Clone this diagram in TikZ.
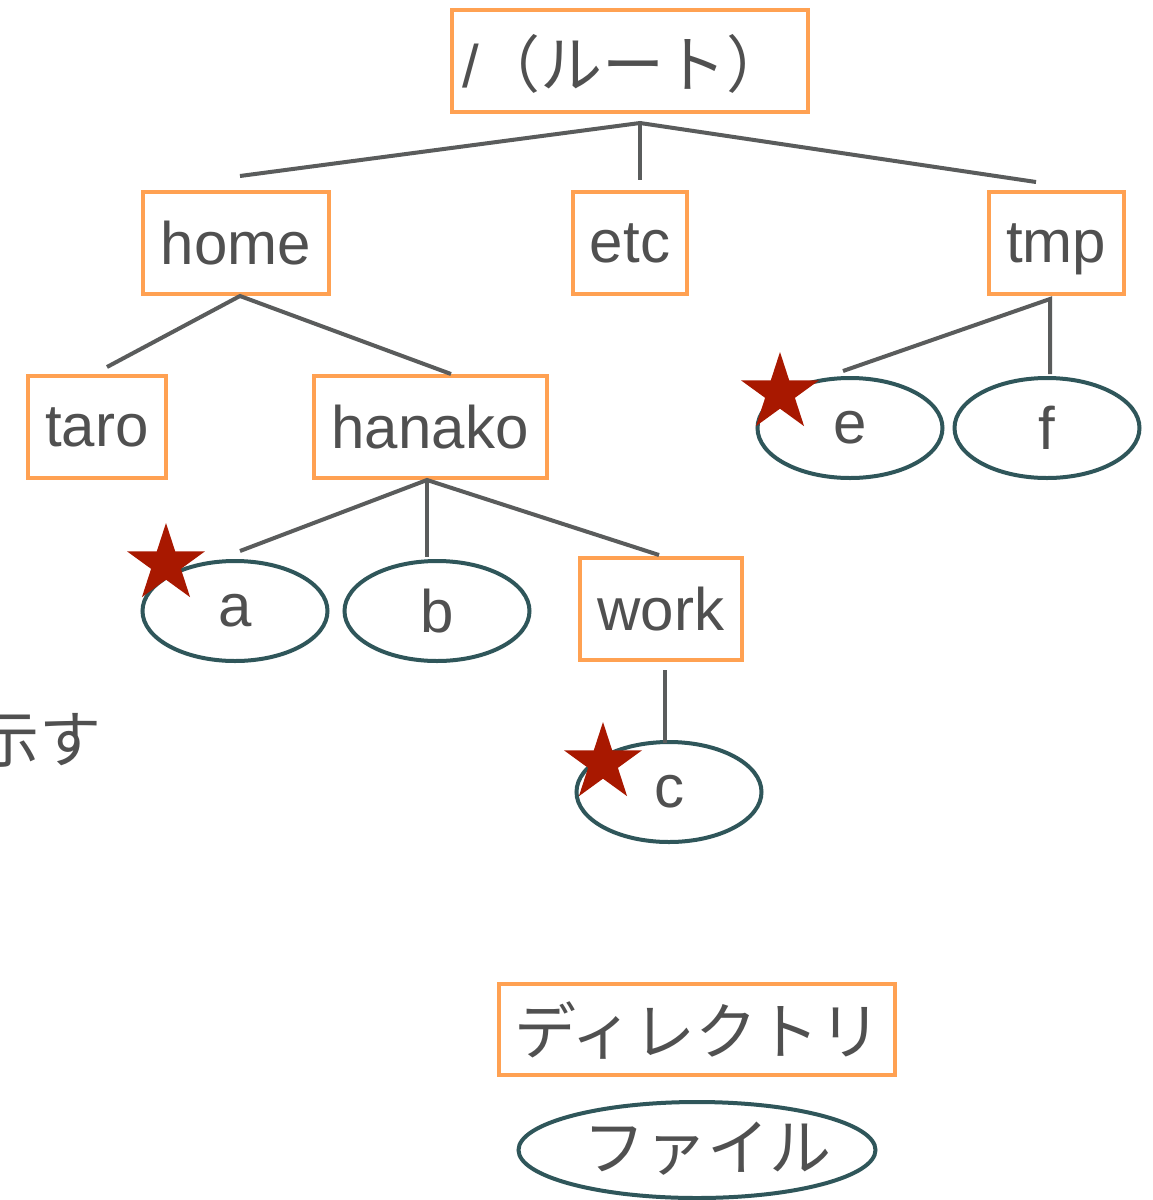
\documentclass[tikz,border=0pt]{standalone}
\usepackage{fontspec}
\setmainfont{Liberation Sans}
\newfontfamily\cjk{Noto Sans CJK JP}
\usetikzlibrary{shapes.geometric}
\definecolor{dirorange}{RGB}{255,161,82}
\definecolor{fileteal}{RGB}{47,86,90}
\definecolor{linegray}{RGB}{90,92,92}
\definecolor{txtgray}{RGB}{80,80,80}
\definecolor{starred}{RGB}{168,24,0}
\tikzset{
  dirbox/.style={draw=dirorange, line width=4pt, rectangle, inner sep=0pt, text=txtgray,
     font=\fontsize{60}{70}\selectfont},
  wordbox/.style={dirbox, text depth=0pt, minimum height=102pt},
  filebox/.style={draw=fileteal, line width=4pt, ellipse, inner sep=0pt, text=txtgray,
     font=\fontsize{60}{70}\selectfont, minimum width=185pt, minimum height=100pt},
  conn/.style={draw=linegray, line width=4pt},
  redstar/.style={star, star points=5, star point ratio=2.618, fill=starred, draw=none,
     minimum size=82pt, inner sep=0pt},
  plaintext/.style={text=txtgray, inner sep=0pt, font=\fontsize{60}{70}\selectfont}
}
\begin{document}
\begin{tikzpicture}[x=1pt,y=-1pt]
\clip (0,0) rectangle (1152,1200);
\fill[white] (0,0) rectangle (1152,1200);

% directories
\node[dirbox, minimum width=356pt, minimum height=102pt] (root) at (630,61) {};
\node[plaintext, anchor=west] (rootlabel) at (462,64) {/\cjk\fontsize{62}{70}\selectfont （ルート）};
\node[wordbox, minimum width=186pt] (home) at (236,243) {home};
\node[wordbox, minimum width=114pt] (etc) at (630,243) {etc};
\node[wordbox, minimum width=135pt] (tmp) at (1056,243) {tmp};
\node[wordbox, minimum width=138pt] (taro) at (97,427) {taro};
\node[wordbox, minimum width=233pt] (hanako) at (430,427) {hanako};
\node[wordbox, minimum width=162pt] (work) at (661,609) {work};

% files
\node[filebox] (e) at (850,428) {e};
\node[filebox] (f) at (1047,428) {f};
\node[filebox] (a) at (235,611) {a};
\node[filebox] (b) at (437,611) {b};
\node[filebox] (c) at (669,792) {c};

% connectors
\draw[conn] ([xshift=4pt,yshift=14pt]home.north) -- ([xshift=10pt,yshift=-9pt]root.south) -- ([xshift=-20pt,yshift=8pt]tmp.north);
\draw[conn] ([xshift=10pt,yshift=-9pt]root.south) -- ([xshift=10pt,yshift=10pt]etc.north);

\draw[conn] ([xshift=10pt,yshift=7pt]taro.north) -- ([xshift=4pt]home.south) -- ([xshift=21pt]hanako.north);

\draw[conn] ([xshift=-7pt,yshift=5pt]e.north) -- ([xshift=-6pt,yshift=-3pt]tmp.south) -- ([xshift=3pt,yshift=2pt]f.north);

\draw[conn] ([xshift=5pt,yshift=8pt]a.north) -- ([xshift=-3pt]hanako.south) -- ([xshift=-2pt,yshift=1pt]work.north);
\draw[conn] ([xshift=-3pt]hanako.south) -- ([xshift=-10pt,yshift=2pt]b.north);

\draw[conn] ([xshift=4pt,yshift=-8pt]work.south) -- ([xshift=-4pt,yshift=-3pt]c.north);

% stars
\node[redstar] (stara) at (166,564) {};
\node[redstar] (stare) at (780,393) {};
\node[redstar] (starc) at (603,763) {};

% partial text at left edge (cut off in the reference too)
\node[plaintext, anchor=east] (note) at (102,740) {\cjk\fontsize{62}{70}\selectfont 示す};

% legend
\node[dirbox, minimum width=396pt, minimum height=91pt] (legdir) at (697,1029) {};
\node[plaintext] (legdirlabel) at (698,1030) {\cjk\fontsize{62}{70}\selectfont ディレクトリ};
\node[filebox, minimum width=357pt, minimum height=96pt] (legfile) at (697,1150) {};
\node[plaintext] (legfilelabel) at (707,1149) {\cjk\fontsize{62}{70}\selectfont ファイル};
\end{tikzpicture}
\end{document}
